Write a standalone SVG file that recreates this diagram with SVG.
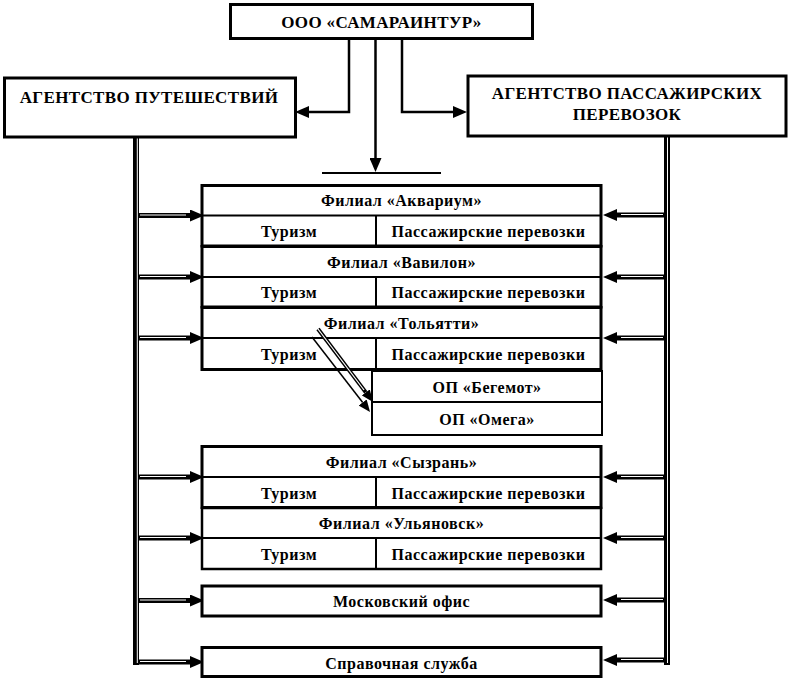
<svg xmlns="http://www.w3.org/2000/svg" width="789" height="679" viewBox="0 0 789 679">
<style>
.box{fill:#fff;stroke:#000;stroke-width:3}
.div{stroke:#000;stroke-width:2;fill:none}
.t{font-family:"Liberation Serif","Times New Roman",serif;font-weight:bold;font-size:16px;letter-spacing:0.5px;text-anchor:middle;dominant-baseline:central;fill:#000}
.tb{font-size:17px;letter-spacing:0.35px}
.ln{stroke:#000;stroke-width:2.5;fill:none}
.dbl{stroke:#000;stroke-width:5;fill:none}
.gap{stroke:#fff;stroke-width:1;fill:none}
.vdbl{stroke:#000;stroke-width:6;fill:none}
.vgap{stroke:#fff;stroke-width:1;fill:none}
.thin{stroke:#000;stroke-width:1.5;fill:none}
</style>
<defs>
<marker id="ah" viewBox="0 0 14 12" refX="0" refY="6" markerWidth="14" markerHeight="12" markerUnits="userSpaceOnUse" orient="auto">
<path d="M0,0 L14,6 L0,12 Z" fill="#000"/>
</marker>
<marker id="ahs" viewBox="0 0 12 10" refX="0" refY="5" markerWidth="12" markerHeight="10" markerUnits="userSpaceOnUse" orient="auto">
<path d="M0,0 L12,5 L0,10 Z" fill="#000"/>
</marker>
</defs>
<rect width="789" height="679" fill="#fff"/>

<g id="connectors">
<polyline class="ln" points="349,40 349,112 309,112" marker-end="url(#ah)"/>
<polyline class="ln" points="402,40 402,112 453,112" marker-end="url(#ah)"/>
<line class="ln" x1="375.5" y1="40" x2="375.5" y2="158" marker-end="url(#ah)"/>
<line class="div" x1="322" y1="173" x2="441" y2="173"/>
<line class="vdbl" x1="136" y1="138" x2="136" y2="665"/>
<line class="vgap" x1="137.3" y1="138" x2="137.3" y2="663"/>
<line class="vdbl" x1="667" y1="137" x2="667" y2="665"/>
<line class="vgap" x1="667.5" y1="137" x2="667.5" y2="663"/>
<g>
<line class="dbl" x1="138" y1="215.5" x2="190" y2="215.5" marker-end="url(#ah)"/>
<line class="dbl" x1="138" y1="277" x2="190" y2="277" marker-end="url(#ah)"/>
<line class="dbl" x1="138" y1="338" x2="190" y2="338" marker-end="url(#ah)"/>
<line class="dbl" x1="138" y1="477" x2="190" y2="477" marker-end="url(#ah)"/>
<line class="dbl" x1="138" y1="538" x2="190" y2="538" marker-end="url(#ah)"/>
<line class="dbl" x1="138" y1="600.5" x2="190" y2="600.5" marker-end="url(#ah)"/>
<line class="dbl" x1="138" y1="662" x2="190" y2="662" marker-end="url(#ah)"/>
<line class="gap" x1="140" y1="215" x2="186" y2="215"/>
<line class="gap" x1="140" y1="276.5" x2="186" y2="276.5"/>
<line class="gap" x1="140" y1="337.5" x2="186" y2="337.5"/>
<line class="gap" x1="140" y1="476.5" x2="186" y2="476.5"/>
<line class="gap" x1="140" y1="537.5" x2="186" y2="537.5"/>
<line class="gap" x1="140" y1="600" x2="186" y2="600"/>
<line class="gap" x1="140" y1="661.5" x2="186" y2="661.5"/>
</g>
<g>
<line class="dbl" x1="665" y1="215" x2="617" y2="215" marker-end="url(#ah)"/>
<line class="dbl" x1="665" y1="277" x2="617" y2="277" marker-end="url(#ah)"/>
<line class="dbl" x1="665" y1="338" x2="617" y2="338" marker-end="url(#ah)"/>
<line class="dbl" x1="665" y1="477" x2="617" y2="477" marker-end="url(#ah)"/>
<line class="dbl" x1="665" y1="538" x2="617" y2="538" marker-end="url(#ah)"/>
<line class="dbl" x1="665" y1="600" x2="617" y2="600" marker-end="url(#ah)"/>
<line class="dbl" x1="665" y1="660" x2="617" y2="660" marker-end="url(#ah)"/>
<line class="gap" x1="663" y1="214.5" x2="621" y2="214.5"/>
<line class="gap" x1="663" y1="276.5" x2="621" y2="276.5"/>
<line class="gap" x1="663" y1="337.5" x2="621" y2="337.5"/>
<line class="gap" x1="663" y1="476.5" x2="621" y2="476.5"/>
<line class="gap" x1="663" y1="537.5" x2="621" y2="537.5"/>
<line class="gap" x1="663" y1="599.5" x2="621" y2="599.5"/>
<line class="gap" x1="663" y1="659.5" x2="621" y2="659.5"/>
</g>
</g>

<g id="company">
<rect class="box" x="230.5" y="4.5" width="302" height="34"/>
<text class="t tb" x="381.5" y="22">ООО «САМАРАИНТУР»</text>
</g>

<g id="agency-travel">
<rect class="box" x="4.5" y="78" width="291" height="59"/>
<text class="t tb" x="149" y="97">АГЕНТСТВО ПУТЕШЕСТВИЙ</text>
</g>

<g id="agency-transport">
<rect class="box" x="468" y="76" width="318" height="60"/>
<text class="t tb" x="627" y="93">АГЕНТСТВО ПАССАЖИРСКИХ</text>
<text class="t tb" x="627" y="114">ПЕРЕВОЗОК</text>
</g>

<g id="branch-akvarium">
<rect class="box" x="202" y="185.5" width="399" height="60.5"/>
<line class="div" x1="202" y1="215.5" x2="601" y2="215.5"/>
<line class="div" x1="376" y1="215.5" x2="376" y2="246"/>
<text class="t" x="401.5" y="200.5">Филиал «Аквариум»</text>
<text class="t" x="289" y="231">Туризм</text>
<text class="t" x="488.5" y="231">Пассажирские перевозки</text>
</g>

<g id="branch-vavilon">
<rect class="box" x="202" y="246.5" width="399" height="60.5"/>
<line class="div" x1="202" y1="277" x2="601" y2="277"/>
<line class="div" x1="376" y1="277" x2="376" y2="307"/>
<text class="t" x="401.5" y="262">Филиал «Вавилон»</text>
<text class="t" x="289" y="292.5">Туризм</text>
<text class="t" x="488.5" y="292.5">Пассажирские перевозки</text>
</g>

<g id="branch-tolyatti">
<rect class="box" x="202" y="307.5" width="399" height="62"/>
<line class="div" x1="202" y1="338" x2="601" y2="338"/>
<line class="div" x1="376" y1="338" x2="376" y2="370"/>
<text class="t" x="401.5" y="323">Филиал «Тольятти»</text>
<text class="t" x="289" y="354.5">Туризм</text>
<text class="t" x="488.5" y="354.5">Пассажирские перевозки</text>
</g>

<g id="op-begemot">
<rect class="box" x="372" y="371" width="230" height="31" style="stroke-width:2"/>
<text class="t" x="487" y="387">ОП «Бегемот»</text>
</g>

<g id="op-omega">
<rect class="box" x="372" y="402" width="230" height="33" style="stroke-width:2"/>
<text class="t" x="487" y="419">ОП «Омега»</text>
</g>

<g id="connectors-op">
<line class="dbl" x1="318" y1="329" x2="365.8" y2="392.4" marker-end="url(#ahs)" style="stroke-width:4"/>
<line class="gap" x1="318" y1="329" x2="364" y2="390" style="stroke-width:1.2"/>
<line class="thin" x1="312" y1="337" x2="362.7" y2="402.5" marker-end="url(#ahs)"/>
</g>

<g id="branch-syzran">
<rect class="box" x="202" y="446.5" width="399" height="61"/>
<line class="div" x1="202" y1="477" x2="601" y2="477"/>
<line class="div" x1="376" y1="477" x2="376" y2="508"/>
<text class="t" x="401.5" y="462">Филиал «Сызрань»</text>
<text class="t" x="289" y="493">Туризм</text>
<text class="t" x="488.5" y="493">Пассажирские перевозки</text>
</g>

<g id="branch-ulyanovsk">
<rect class="box" x="202" y="508" width="399" height="61" style="stroke-width:2.5"/>
<line class="div" x1="202" y1="538" x2="601" y2="538"/>
<line class="div" x1="376" y1="538" x2="376" y2="569"/>
<text class="t" x="401.5" y="523.5">Филиал «Ульяновск»</text>
<text class="t" x="289" y="554">Туризм</text>
<text class="t" x="488.5" y="554">Пассажирские перевозки</text>
</g>

<g id="moscow-office">
<rect class="box" x="202" y="586" width="399" height="30"/>
<text class="t" x="401.5" y="601.5">Московский офис</text>
</g>

<g id="help-desk">
<rect class="box" x="202" y="647.5" width="399" height="29"/>
<text class="t" x="401.5" y="663">Справочная служба</text>
</g>
</svg>
